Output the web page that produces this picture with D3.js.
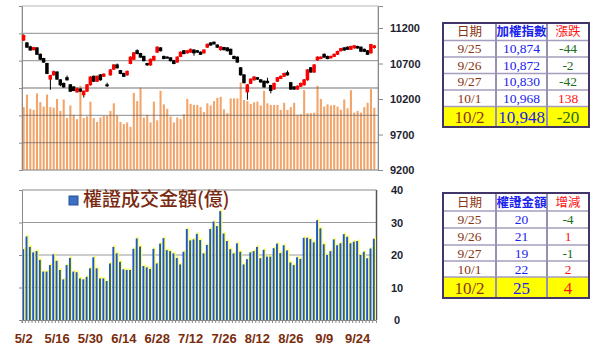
<!DOCTYPE html>
<html>
<head>
<meta charset="utf-8">
<script src="https://cdn.jsdelivr.net/npm/d3@7"></script>
<style>
  body { margin: 0; background: #fff; }
  svg { display: block; }
</style>
</head>
<body>
<div id="chart"></div>
<script>
// trading days 2019/5/2 - 10/2
const dates = [
  "5/2","5/3","5/6","5/7","5/8","5/9","5/10","5/13","5/14","5/15",
  "5/16","5/17","5/20","5/21","5/22","5/23","5/24","5/27","5/28","5/29",
  "5/30","5/31","6/3","6/4","6/5","6/6","6/10","6/11","6/12","6/13",
  "6/14","6/17","6/18","6/19","6/20","6/21","6/24","6/25","6/26","6/27",
  "6/28","7/1","7/2","7/3","7/4","7/5","7/8","7/9","7/10","7/11",
  "7/12","7/15","7/16","7/17","7/18","7/19","7/22","7/23","7/24","7/25",
  "7/26","7/29","7/30","7/31","8/1","8/2","8/5","8/6","8/7","8/8",
  "8/12","8/13","8/14","8/15","8/16","8/19","8/20","8/21","8/22","8/23",
  "8/26","8/27","8/28","8/29","8/30","9/2","9/3","9/4","9/5","9/6",
  "9/9","9/10","9/11","9/12","9/16","9/17","9/18","9/19","9/20","9/23",
  "9/24","9/25","9/26","9/27","10/1","10/2"
];
const xTicks = ["5/2","5/16","5/30","6/14","6/28","7/12","7/26","8/12","8/26","9/9","9/24"];

// 加權指數 OHLC
const openIdx = [
  11030,10990,10935,10895,10920,10830,10770,10700,10480,10540,
  10580,10470,10420,10500,10400,10370,10300,10340,10260,10310,
  10400,10520,10450,10540,10520,10400,10540,10620,10680,10600,
  10560,10540,10700,10760,10880,10840,10800,10700,10680,10750,
  10860,10920,10800,10790,10780,10740,10720,10800,10880,10850,
  10860,10890,10880,10860,10850,10930,10990,11000,10960,10895,
  10925,10920,10900,10800,10790,10640,10540,10300,10420,10470,
  10500,10470,10450,10450,10390,10340,10450,10490,10520,10570,
  10430,10370,10340,10380,10400,10470,10640,10580,10750,10770,
  10830,10800,10780,10800,10830,10880,10920,10930,10900,10920,
  10940,10930,10900,10880,10850,10925
];
const highIdx = [
  11110,11000,10950,10935,10930,10840,10780,10710,10540,10600,
  10590,10480,10430,10530,10410,10380,10360,10350,10320,10410,
  10520,10530,10530,10550,10560,10430,10620,10690,10700,10610,
  10570,10600,10800,10860,10900,10850,10810,10710,10770,10810,
  10940,10930,10810,10800,10790,10750,10800,10870,10890,10890,
  10910,10900,10890,10870,10900,10980,11000,11010,10970,10940,
  10935,10930,10910,10810,10800,10650,10550,10410,10490,10520,
  10510,10480,10460,10500,10400,10430,10510,10530,10570,10600,
  10440,10380,10390,10430,10480,10620,10650,10690,10800,10800,
  10840,10810,10810,10840,10880,10920,10930,10940,10950,10960,
  10950,10940,10910,10890,10975,10960
];
const lowIdx = [
  11020,10920,10880,10885,10820,10750,10710,10550,10330,10530,
  10470,10380,10360,10460,10300,10310,10290,10300,10220,10300,
  10390,10440,10440,10460,10510,10370,10530,10610,10630,10550,
  10510,10530,10690,10750,10830,10780,10730,10670,10670,10740,
  10850,10870,10760,10770,10730,10690,10710,10790,10830,10840,
  10850,10810,10850,10820,10840,10920,10950,10970,10920,10880,
  10885,10870,10820,10760,10710,10530,10420,10190,10410,10460,
  10470,10430,10360,10420,10280,10330,10440,10480,10510,10530,
  10330,10330,10330,10370,10390,10460,10570,10570,10740,10760,
  10780,10760,10770,10790,10820,10870,10880,10890,10890,10910,
  10910,10860,10860,10820,10840,10910
];
const closeIdx = [
  11095,10930,10890,10925,10830,10760,10720,10560,10530,10585,
  10480,10400,10370,10470,10310,10320,10350,10310,10310,10400,
  10510,10450,10520,10470,10550,10390,10610,10680,10640,10560,
  10520,10590,10790,10850,10840,10790,10740,10680,10760,10800,
  10930,10880,10770,10780,10740,10700,10790,10860,10840,10880,
  10900,10850,10860,10830,10890,10970,10960,10975,10930,10935,
  10895,10880,10830,10770,10720,10540,10430,10400,10480,10510,
  10480,10440,10370,10430,10320,10420,10500,10520,10560,10540,
  10340,10340,10380,10420,10470,10610,10580,10680,10790,10790,
  10790,10770,10800,10830,10870,10910,10890,10900,10940,10950,
  10918,10874,10872,10830,10968,10948
];

// 成交量 (億)
const volume = [
  1150,1380,1120,1100,1400,1240,1160,1380,1150,1140,
  1300,1080,1290,950,1180,1010,930,1540,950,980,
  1250,950,880,960,990,990,1080,1220,1000,880,
  840,870,790,1410,1260,1510,960,1010,870,1250,
  910,1450,1200,1120,980,870,960,930,1020,1300,
  1210,1190,1190,1150,1060,1220,1180,1260,1320,1340,
  1110,1040,1310,1310,1310,1600,1280,1260,1210,1240,
  1250,1180,1450,1220,1190,1190,1190,1100,1230,1100,
  1150,1230,1010,1020,1460,1040,1040,1050,1540,1300,
  1160,1200,1180,1190,1160,1100,1290,1130,1460,1050,
  1080,1050,1150,1230,1480,1140
];

// 權證成交金額 (億)
const warrant = [
  21.8,25.7,22.5,20.8,21.2,18.5,14.9,14.9,16.9,20.2,
  18.2,15.4,12.5,16.9,19.1,14.9,14.7,12.8,12.5,13.3,
  15.9,19.3,15.9,12.8,12.8,12.0,17.4,22.5,20.5,17.9,
  15.6,15.4,15.4,21.9,25.1,22.6,16.6,16.2,15.7,21.9,
  17.4,23.5,25.2,21.5,21.2,20.5,19.1,17.1,21.0,28.0,
  24.5,24.8,26.5,24.6,20.5,23.1,28.0,30.3,28.9,33.5,
  26.6,24.3,21.8,20.5,23.6,21.0,17.1,18.7,20.8,21.2,
  22.5,19.0,21.6,19.5,19.5,22.1,23.5,20.6,23.0,21.4,
  17.7,16.9,19.3,18.8,25.3,25.3,24.9,23.9,30.7,28.2,
  23.3,20.0,21.2,24.8,23.0,23.6,26.4,25.6,23.6,24.1,
  24.3,20,21,19,22,25
];

const indexTicks = [9200, 9700, 10200, 10700, 11200];
const warrantTicks = [0, 10, 20, 30, 40];

const tblDates = ["9/25", "9/26", "9/27", "10/1", "10/2"];
const tblIndex = [10874, 10872, 10830, 10968, 10948];
const tblIndexChg = [-44, -2, -42, 138, -20];
const tblWarrant = [20, 21, 19, 22, 25];
const tblWarrantChg = [-4, 1, -1, 2, 4];

const width = 598, height = 351;

const svg = d3.select("#chart").append("svg")
    .attr("width", width)
    .attr("height", height)
    .attr("viewBox", [0, 0, width, height]);

const x = d3.scaleBand().domain(dates).range([22, 376]);
const bw = x.bandwidth();

// ---------- top chart ----------
const topY0 = 170, topY1 = 6;
const yVol = d3.scaleLinear().domain([0, 3000]).range([topY0, topY1]);
const yIdx = d3.scaleLinear().domain([9200, 11510]).range([topY0, topY1]);

svg.append("rect")
    .attr("x", 22).attr("y", topY1)
    .attr("width", 378 - 22).attr("height", topY0 - topY1)
    .attr("fill", "none").attr("stroke", "#b8b8b8");

svg.append("g")
  .selectAll("rect")
  .data(volume)
  .join("rect")
    .attr("x", (d, i) => x(dates[i]) + 0.6)
    .attr("y", d => yVol(d))
    .attr("width", bw * 0.62)
    .attr("height", d => yVol(0) - yVol(d))
    .attr("fill", "#f3a468");

svg.append("g")
  .selectAll("line")
  .data([500, 1000, 1500, 2000, 2500])
  .join("line")
    .attr("x1", 22).attr("x2", 378)
    .attr("y1", d => yVol(d)).attr("y2", d => yVol(d))
    .attr("stroke", "#666").attr("stroke-opacity", 0.6)
    .attr("stroke-width", 1.3);

// left axis (hidden values)
svg.append("g")
    .attr("transform", "translate(22,0)")
    .call(d3.axisLeft(yVol).tickValues([0, 500, 1000, 1500, 2000, 2500, 3000])
      .tickSize(3).tickFormat(""))
    .call(g => g.selectAll("line,path").attr("stroke", "#8a8a8a"));

svg.append("line")
    .attr("x1", 22).attr("x2", 378).attr("y1", topY0).attr("y2", topY0)
    .attr("stroke", "#9a9a9a");

// candles
const candles = svg.append("g");
dates.forEach((d, i) => {
  const cx = x(d) + bw / 2;
  candles.append("line")
      .attr("x1", cx).attr("x2", cx)
      .attr("y1", yIdx(highIdx[i])).attr("y2", yIdx(lowIdx[i]))
      .attr("stroke", "#000").attr("stroke-width", 1);
  const up = closeIdx[i] >= openIdx[i];
  const top = yIdx(Math.max(openIdx[i], closeIdx[i]));
  const bot = yIdx(Math.min(openIdx[i], closeIdx[i]));
  candles.append("rect")
      .attr("x", x(d) - 0.2)
      .attr("y", top - 0.5)
      .attr("width", bw * 1.05)
      .attr("height", Math.max(2, bot - top + 1))
      .attr("fill", up ? "#ff0000" : "#000");
});

// right axis
svg.append("g")
    .attr("transform", "translate(378,0)")
    .call(d3.axisRight(yIdx).tickValues(indexTicks).tickSize(5).tickFormat(""))
    .call(g => g.select(".domain").attr("stroke", "#8a8a8a"))
    .call(g => g.selectAll(".tick line").attr("stroke", "#8a8a8a"));

svg.append("g")
  .selectAll("text")
  .data(indexTicks)
  .join("text")
    .attr("x", 390)
    .attr("y", d => yIdx(d) + 4)
    .attr("font-family", "Liberation Sans, Arial, sans-serif")
    .attr("font-weight", "bold")
    .attr("font-size", 11)
    .attr("fill", "#1e1e30")
    .text(d => d);

// ---------- bottom chart ----------
const botY0 = 320, botY1 = 190;
const yW = d3.scaleLinear().domain([0, 40]).range([botY0, botY1]);

svg.append("g")
  .selectAll("line")
  .data([10, 20, 30])
  .join("line")
    .attr("x1", 22).attr("x2", 376.5)
    .attr("y1", d => yW(d)).attr("y2", d => yW(d))
    .attr("stroke", "#9a9a9a");

svg.append("line")
    .attr("x1", 22).attr("x2", 376.5).attr("y1", botY1).attr("y2", botY1)
    .attr("stroke", "#8a8a8a");
svg.append("line")
    .attr("x1", 376.5).attr("x2", 376.5).attr("y1", botY1).attr("y2", botY0)
    .attr("stroke", "#555").attr("stroke-width", 1.5);

const wb = svg.append("g");
wb.selectAll("rect.glow")
  .data(warrant)
  .join("rect")
    .attr("class", "glow")
    .attr("x", (d, i) => x(dates[i]) + 1.2)
    .attr("y", d => yW(d) - 1.5)
    .attr("width", 2.1)
    .attr("height", d => yW(0) - yW(d) + 1.5)
    .attr("fill", "#ffff55");
wb.selectAll("rect.bar")
  .data(warrant)
  .join("rect")
    .attr("class", "bar")
    .attr("x", (d, i) => x(dates[i]) + 0.2)
    .attr("y", d => yW(d))
    .attr("width", 1.9)
    .attr("height", d => yW(0) - yW(d))
    .attr("fill", "#1f56c9");

svg.append("g")
    .attr("transform", "translate(22,0)")
    .call(d3.axisLeft(yW).tickValues(warrantTicks).tickSize(3).tickFormat(""))
    .call(g => g.selectAll("line,path").attr("stroke", "#8a8a8a"));

svg.append("g")
    .attr("transform", `translate(0,${botY0})`)
    .call(d3.axisBottom(x).tickSizeOuter(0).tickSize(3).tickFormat(""))
    .call(g => g.selectAll(".tick line").attr("transform", `translate(${-bw / 2},0)`))
    .call(g => g.selectAll("line,path").attr("stroke", "#8a8a8a"));

svg.append("g")
  .selectAll("text")
  .data(warrantTicks)
  .join("text")
    .attr("x", 397)
    .attr("y", d => yW(d) + 4)
    .attr("text-anchor", "middle")
    .attr("font-family", "Liberation Sans, Arial, sans-serif")
    .attr("font-weight", "bold")
    .attr("font-size", 11)
    .attr("fill", "#1e1e30")
    .text(d => d);

// x labels
svg.append("g")
  .selectAll("text")
  .data(xTicks)
  .join("text")
    .attr("x", d => x(d) + bw / 2)
    .attr("y", 343)
    .attr("text-anchor", "middle")
    .attr("font-family", "Liberation Sans, Arial, sans-serif")
    .attr("font-weight", "bold")
    .attr("font-size", 13)
    .attr("fill", "#7a2c0c")
    .text(d => d);

// legend
svg.append("rect")
    .attr("x", 69).attr("y", 196).attr("width", 9).attr("height", 9)
    .attr("fill", "#3b6fc4").attr("stroke", "#2a4f9a");
svg.append("text")
    .attr("x", 83).attr("y", 206)
    .attr("font-family", "Noto Sans CJK TC, sans-serif")
    .attr("font-size", 19)
    .attr("font-weight", 500)
    .attr("fill", "#7a2a10")
    .text("權證成交金額(億)");

// ---------- tables ----------
const colX = [443, 496, 547, 589];
const colMid = [469.5, 521.5, 568];
const brown = "#8b3413", blue = "#1a22ee", red = "#ff1010", green = "#1d6b1d";

function drawTable(rowY, headers, headColors, col1, col2, col3, fmt2) {
  const g = svg.append("g");
  const last = rowY.length - 2;
  g.append("rect")
      .attr("x", colX[0]).attr("y", rowY[last])
      .attr("width", colX[3] - colX[0]).attr("height", rowY[last + 1] - rowY[last])
      .attr("fill", "#ffff00");
  rowY.slice(1, -1).forEach(y => {
    g.append("line").attr("x1", colX[0]).attr("x2", colX[3])
        .attr("y1", y).attr("y2", y)
        .attr("stroke", "#a59dbd").attr("stroke-width", 1.5);
  });
  [colX[1], colX[2]].forEach(cx => {
    g.append("line").attr("x1", cx).attr("x2", cx)
        .attr("y1", rowY[0]).attr("y2", rowY[rowY.length - 1])
        .attr("stroke", "#9890b0").attr("stroke-width", 2);
  });
  g.append("rect")
      .attr("x", colX[0]).attr("y", rowY[0])
      .attr("width", colX[3] - colX[0]).attr("height", rowY[rowY.length - 1] - rowY[0])
      .attr("fill", "none").attr("stroke", "#41356a").attr("stroke-width", 2);

  headers.forEach((h, j) => {
    g.append("text")
        .attr("x", colMid[j]).attr("y", (rowY[0] + rowY[1]) / 2 + 4.5)
        .attr("text-anchor", "middle")
        .attr("font-family", "Noto Sans CJK TC, sans-serif")
        .attr("font-size", 12.5)
        .attr("font-weight", j === 1 ? "bold" : "normal")
        .attr("fill", headColors[j])
        .text(h);
  });

  col1.forEach((d, i) => {
    const big = i === col1.length - 1;
    const cy = (rowY[i + 1] + rowY[i + 2]) / 2 + (big ? 6 : 4.5);
    const fs = big ? 17 : 13.5;
    const cells = [
      [d, brown],
      [fmt2(col2[i]), blue],
      [String(col3[i]), col3[i] < 0 ? green : red]
    ];
    cells.forEach(([t, c], j) => {
      g.append("text")
          .attr("x", colMid[j]).attr("y", cy)
          .attr("text-anchor", "middle")
          .attr("font-family", "Liberation Serif, Times New Roman, serif")
          .attr("font-size", fs)
          .attr("fill", c)
          .text(t);
    });
  });
}

drawTable([23, 40.5, 57, 73.5, 90, 106.5, 127],
  ["日期", "加權指數", "漲跌"], [brown, blue, red],
  tblDates, tblIndex, tblIndexChg, d3.format(","));

drawTable([193, 211, 228, 245, 261, 277, 298],
  ["日期", "權證金額", "增減"], [brown, blue, red],
  tblDates, tblWarrant, tblWarrantChg, d => String(d));
</script>
</body>
</html>
